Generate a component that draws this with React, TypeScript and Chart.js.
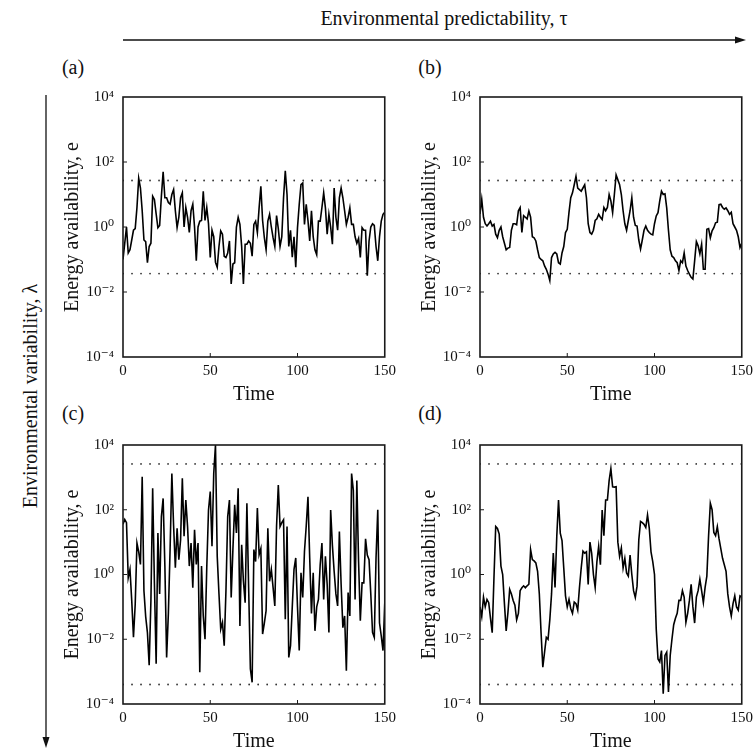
import React, { useEffect, useRef } from "react";
import { Chart, registerables } from "chart.js";

Chart.register(...registerables);

// ---------------- data ----------------
const timeSteps: number[] = Array.from({ length: 151 }, (_, i) => i);
const xTickValues = [0, 50, 100, 150];
const yTickValues = [1e-4, 1e-2, 1, 1e2, 1e4];
const yTickLabels = ["10⁻⁴", "10⁻²", "10⁰", "10²", "10⁴"];

const panelLabels = ["(a)", "(b)", "(c)", "(d)"];
const topTitle = "Environmental predictability, τ";
const sideTitle = "Environmental variability, λ";
const yAxisTitle = "Energy availability, e";
const xAxisTitle = "Time";

// dotted bounds (e values)
const upperBoundLowVar = 27;
const lowerBoundLowVar = 0.037;
const upperBoundHighVar = 2600;
const lowerBoundHighVar = 0.0004;

// log10 of energy availability, t = 0..150
const log10E_a = [
  -1.0, -0.5, 0.0, -0.8, -0.7, -0.4, -0.1, -0.05, 0.6, 1.5,
  1.2, 0.5, -0.4, -0.45, -1.1, -0.6, -0.5, 0.95, 0.85, 0.4,
  -0.02, 0.05, 0.95, 1.7, 0.9, 0.9, 0.75, 0.7, 1.0, 1.15,
  0.5, -0.02, 0.3, 0.9, 1.05, 0.0, 0.6, 0.3, -0.17, 0.5,
  0.7, 0.0, -1.04, 0.0, 0.18, 0.2, 1.1, 0.2, 0.6, 0.1,
  -0.94, -0.1, -0.3, -1.09, -1.24, -0.6, -0.12, -0.22, -0.9, -0.94,
  -0.8, -0.43, -1.75, -1.14, -1.1, 0.0, 0.3, 0.08, -0.6, -1.75,
  -0.53, -0.53, -0.43, -0.5, -0.9, 0.08, 0.18, -0.17, 0.59, 1.25,
  0.2, -0.33, -0.7, 0.18, 0.39, 0.0, -0.33, -0.6, 0.35, -0.05,
  -0.6, -0.3, 0.9, 1.73, 1.0, -0.6, -0.1, -0.93, -0.3, -1.24,
  -0.02, 0.7, 1.3, 1.35, 0.08, 0.7, 0.2, -0.43, 0.5, -0.3,
  -0.7, -0.85, 0.18, 0.18, 0.6, 1.05, 0.59, -0.22, 0.39, 0.0,
  -0.53, 1.2, 0.3, -0.1, 0.9, 1.2, 0.9, 0.5, 0.08, 0.3,
  0.59, 0.08, 0.08, -0.3, -0.5, -0.35, -0.94, -0.02, -0.1, -0.1,
  -1.5, -0.43, 0.0, 0.1, 0.05, -0.6, -1.04, -0.3, 0.18, 0.39,
  0.45,
];

const log10E_b = [
  0.4, 0.85, 0.3, 0.1, 0.03, 0.1, 0.18, 0.03, 0.08, -0.22,
  -0.33, -0.1, 0.0, -0.3, -0.5, -0.7, -0.65, -0.63, -0.1, 0.1,
  0.1, 0.07, 0.5, 0.6, -0.17, 0.35, 0.3, 0.25, 0.49, 0.3,
  -0.3, -0.33, -0.43, -0.7, -0.94, -1.0, -1.04, -1.2, -1.3, -1.45,
  -1.65, -0.94, -0.83, -0.78, -0.83, -1.1, -1.14, -0.8, -0.6, -0.17,
  -0.07, 0.45, 0.9, 1.05, 1.3, 1.56, 1.2, 1.15, 1.1, 1.2,
  1.3, 0.9, 0.1, -0.17, -0.22, -0.1, 0.2, 0.25, 0.39, 0.3,
  0.23, 0.6, 0.5, 0.6, 1.0, 0.8, 0.44, 1.0, 1.6, 1.45,
  1.3, 1.0, 0.5, 0.1, -0.1, 0.2, 0.5, 0.9, 0.3, 0.05,
  0.03, -0.4, -0.68, -0.4, -0.1, 0.03, -0.1, -0.17, -0.22, -0.24,
  0.1, 0.34, 0.44, 0.8, 1.1, 1.0, 1.02, 0.59, -0.1, -0.7,
  -0.9, -0.94, -1.04, -1.1, -1.34, -1.04, -1.1, -0.8, -1.2, -1.34,
  -1.45, -1.55, -1.6, -1.04, -0.45, -0.58, -0.83, -0.53, -1.3, -1.3,
  -0.07, -0.05, -0.33, -0.12, -0.02, 0.13, 0.15, 0.69, 0.7, 0.6,
  0.55, 0.59, 0.5, 0.39, 0.45, 0.1, 0.0, -0.1, -0.3, -0.63,
  -0.5,
];

const log10E_c = [
  1.55, 1.7, 1.6, -0.1, 0.16, -0.8, -1.94, -0.92, 0.97, 0.7,
  0.31, 3.02, -0.5, -1.3, -1.8, -2.8, -0.8, 2.66, -0.26, -2.76,
  1.28, -0.6, 1.79, 2.35, 0.26, -2.56, -1.2, 0.8, 3.12, 1.5,
  0.21, 1.43, 0.46, 1.07, 2.97, 1.18, 2.3, 1.48, 0.26, 0.97,
  -0.41, 1.38, 0.31, 0.97, -3.02, 0.26, -1.28, -2.0, 0.21, 1.99,
  2.56, 0.87, 3.12, 4.0, 0.56, -0.6, -1.69, -1.48, -2.2, -0.5,
  1.79, 2.3, -0.71, 0.8, 2.15, 1.28, 2.66, -1.59, 0.92, -0.2,
  -0.87, 2.2, -0.4, -2.92, -3.33, 0.77, 0.4, 2.05, 0.61, 0.8,
  -1.84, -1.5, -1.12, 1.43, -0.21, 0.16, -0.4, -0.97, 1.5, 2.76,
  1.48, 1.6, 1.69, -1.38, 1.48, -2.56, -2.2, -1.0, 0.16, 0.51,
  -1.0, -2.35, 0.05, -0.71, 0.72, 1.5, 2.4, 0.5, -1.2, 0.05,
  -1.74, -1.0, -0.77, 0.3, 0.97, -0.77, 0.56, -0.3, -1.79, 1.99,
  0.9, 0.1, -0.6, -0.97, 1.33, -0.3, -1.64, -1.28, -2.97, -0.56,
  -1.28, 3.12, 2.6, -0.77, 2.9, 0.4, -1.43, -0.26, -0.26, 1.1,
  0.6, 0.46, -0.6, -1.79, -1.94, 0.5, 2.0, -1.5, -1.9, -2.35,
  -0.9,
];

const log10E_d = [
  -1.0, -1.3, -0.7, -1.0, -0.77, -0.87, -1.35, -1.8, -0.1, 1.48,
  1.42, 1.25, 0.26, 0.0, -0.9, -1.74, -1.18, -0.46, -0.6, -0.8,
  -0.95, -1.4, -1.2, -0.5, -0.41, -0.35, -0.41, -0.35, -0.3, 0.77,
  0.46, 0.42, 0.36, 0.1, -0.6, -1.8, -2.86, -2.4, -1.94, -2.0,
  -1.4, -0.6, 0.66, -0.4, 1.18, 2.3, 1.28, 1.05, 0.2, -0.66,
  -1.0, -0.77, -1.05, -1.2, -0.85, -0.9, -1.1, -0.4, 0.2, 0.72,
  0.66, 0.7, -0.31, 1.0, 0.65, 0.0, -0.4, 0.4, 0.87, 0.3,
  1.99, 1.2, 2.3, 2.3, 2.9, 3.27, 2.71, 2.7, 2.71, 1.0,
  0.56, 0.82, 0.2, 0.5, 0.05, -0.05, 0.6, 0.0, -0.5, -0.71,
  -0.36, 1.07, 1.64, 1.6, 1.55, 1.45, 1.84, 1.43, 0.7, 0.4,
  0.0, -1.69, -2.61, -2.7, -2.35, -3.68, -2.5, -2.4, -3.63, -2.5,
  -2.0, -1.55, -1.35, -1.2, -0.8, -0.8, -0.5, -0.7, -1.48, -1.2,
  -0.8, -0.3, -1.0, -1.5, -0.7, -0.5, -0.15, -0.5, -0.87, -0.4,
  -0.05, 1.2, 2.2, 2.0, 1.3, 1.2, 1.48, 1.1, 0.8, 0.5,
  0.3, 0.1, -0.6, -1.0, -1.28, -0.9, -0.66, -1.0, -1.1, -0.66,
  -0.7,
];

// ---------------- styling ----------------
const SERIF = "'Liberation Serif', 'Times New Roman', 'DejaVu Serif', serif";
const INK = "#111111";
const Y_AXIS_W = 70;
const PAD_TOP = 16;
const PAD_RIGHT = 16;
const X_AXIS_H = 54;
const PLOT_W = 262;

const framePlugin = {
  id: "panelFrame",
  afterDraw(chart: any) {
    const { ctx, chartArea } = chart;
    const { left, top, right, bottom } = chartArea;
    ctx.save();
    ctx.strokeStyle = "#1a1a1a";
    ctx.lineWidth = 1.6;
    ctx.strokeRect(left, top, right - left, bottom - top);
    ctx.lineWidth = 1;
    const ys = chart.scales.y;
    const xs = chart.scales.x;
    yTickValues.slice(1, -1).forEach((v) => {
      const py = ys.getPixelForValue(v);
      ctx.beginPath();
      ctx.moveTo(left, py);
      ctx.lineTo(left + 4, py);
      ctx.stroke();
    });
    xTickValues.slice(1, -1).forEach((v) => {
      const px = xs.getPixelForValue(v);
      ctx.beginPath();
      ctx.moveTo(px, bottom);
      ctx.lineTo(px, bottom - 4);
      ctx.stroke();
    });
    ctx.restore();
  },
};

type PanelProps = {
  values: number[];
  upper: number;
  lower: number;
  plotLeft: number;
  plotTop: number;
  plotH: number;
};

function Panel({ values, upper, lower, plotLeft, plotTop, plotH }: PanelProps) {
  const ref = useRef<HTMLCanvasElement | null>(null);
  const W = Y_AXIS_W + PLOT_W + PAD_RIGHT;
  const H = PAD_TOP + plotH + X_AXIS_H;

  useEffect(() => {
    const canvas = ref.current;
    if (!canvas) return;
    const eValues = values.map((v) => Math.pow(10, v));
    const dotted = {
      borderColor: "#333333",
      borderWidth: 1.8,
      borderDash: [0.01, 9],
      borderCapStyle: "round" as const,
      pointRadius: 0,
      fill: false,
    };
    const chart = new Chart(canvas, {
      type: "line",
      data: {
        labels: timeSteps,
        datasets: [
          {
            data: eValues,
            borderColor: "#000000",
            borderWidth: 1.6,
            pointRadius: 0,
            tension: 0,
            fill: false,
          },
          {
            ...dotted,
            data: [
              { x: timeSteps[0], y: upper },
              { x: timeSteps[timeSteps.length - 1], y: upper },
            ],
          },
          {
            ...dotted,
            data: [
              { x: timeSteps[0], y: lower },
              { x: timeSteps[timeSteps.length - 1], y: lower },
            ],
          },
        ] as any,
      },
      options: {
        animation: false,
        responsive: false,
        events: [],
        layout: { padding: { left: 0, top: PAD_TOP, right: PAD_RIGHT, bottom: 0 } },
        plugins: {
          legend: { display: false },
          tooltip: { enabled: false },
        },
        scales: {
          x: {
            type: "linear",
            min: 0,
            max: 150,
            afterBuildTicks: (s: any) => {
              s.ticks = xTickValues.map((v) => ({ value: v }));
            },
            afterFit: (s: any) => {
              s.height = X_AXIS_H;
            },
            grid: { display: false, drawTicks: false },
            border: { display: false },
            ticks: {
              autoSkip: false,
              maxRotation: 0,
              padding: 5,
              color: INK,
              font: { family: SERIF, size: 15 },
            },
            title: {
              display: true,
              text: xAxisTitle,
              color: INK,
              font: { family: SERIF, size: 20 },
              padding: { top: 0, bottom: 4 },
            },
          },
          y: {
            type: "logarithmic",
            min: 1e-4,
            max: 1e4,
            afterBuildTicks: (s: any) => {
              s.ticks = yTickValues.map((v) => ({ value: v }));
            },
            afterFit: (s: any) => {
              s.width = Y_AXIS_W;
            },
            grid: { display: false, drawTicks: false },
            border: { display: false },
            ticks: {
              autoSkip: false,
              padding: 9,
              color: INK,
              font: { family: SERIF, size: 15 },
              callback: (v: any) => {
                const i = yTickValues.findIndex((t) => Math.abs(Math.log10(t) - Math.log10(Number(v))) < 1e-6);
                return i >= 0 ? yTickLabels[i] : "";
              },
            },
            title: {
              display: true,
              text: yAxisTitle,
              color: INK,
              font: { family: SERIF, size: 20 },
              padding: { top: 8, bottom: 0 },
            },
          },
        },
      } as any,
      plugins: [framePlugin],
    });
    return () => chart.destroy();
  }, []);

  return (
    <canvas
      ref={ref}
      width={W}
      height={H}
      style={{
        position: "absolute",
        left: plotLeft - Y_AXIS_W,
        top: plotTop - PAD_TOP,
        width: W,
        height: H,
      }}
    />
  );
}

const panels = [
  { values: log10E_a, upper: upperBoundLowVar, lower: lowerBoundLowVar, plotLeft: 123, plotTop: 95, plotH: 262 },
  { values: log10E_b, upper: upperBoundLowVar, lower: lowerBoundLowVar, plotLeft: 480, plotTop: 95, plotH: 262 },
  { values: log10E_c, upper: upperBoundHighVar, lower: lowerBoundHighVar, plotLeft: 123, plotTop: 443, plotH: 261 },
  { values: log10E_d, upper: upperBoundHighVar, lower: lowerBoundHighVar, plotLeft: 480, plotTop: 443, plotH: 261 },
];

const labelPos = [
  { x: 73, y: 67 },
  { x: 430, y: 67 },
  { x: 73, y: 413 },
  { x: 430, y: 413 },
];

export default function App() {
  return (
    <div
      style={{
        position: "absolute",
        left: 0,
        top: 0,
        width: 756,
        height: 752,
        background: "#ffffff",
        fontFamily: SERIF,
        color: INK,
        overflow: "hidden",
      }}
    >
      <div
        style={{
          position: "absolute",
          left: 444,
          top: 18,
          transform: "translate(-50%, -50%)",
          fontSize: 20,
          whiteSpace: "nowrap",
        }}
      >
        {topTitle}
      </div>
      <div
        style={{
          position: "absolute",
          left: 30,
          top: 396,
          transform: "translate(-50%, -50%) rotate(-90deg)",
          fontSize: 20,
          whiteSpace: "nowrap",
        }}
      >
        {sideTitle}
      </div>
      <svg width={756} height={752} style={{ position: "absolute", left: 0, top: 0 }}>
        <line x1={123} y1={40} x2={736} y2={40} stroke={INK} strokeWidth={1.3} />
        <polygon points="746,40 735,36.5 735,43.5" fill={INK} />
        <line x1={46} y1={95} x2={46} y2={738} stroke={INK} strokeWidth={1.3} />
        <polygon points="46,748 42.5,737 49.5,737" fill={INK} />
      </svg>
      {panelLabels.map((t, i) => (
        <div
          key={t}
          style={{
            position: "absolute",
            left: labelPos[i].x,
            top: labelPos[i].y,
            transform: "translate(-50%, -50%)",
            fontSize: 20,
            whiteSpace: "nowrap",
          }}
        >
          {t}
        </div>
      ))}
      {panels.map((p, i) => (
        <Panel key={i} {...p} />
      ))}
    </div>
  );
}
